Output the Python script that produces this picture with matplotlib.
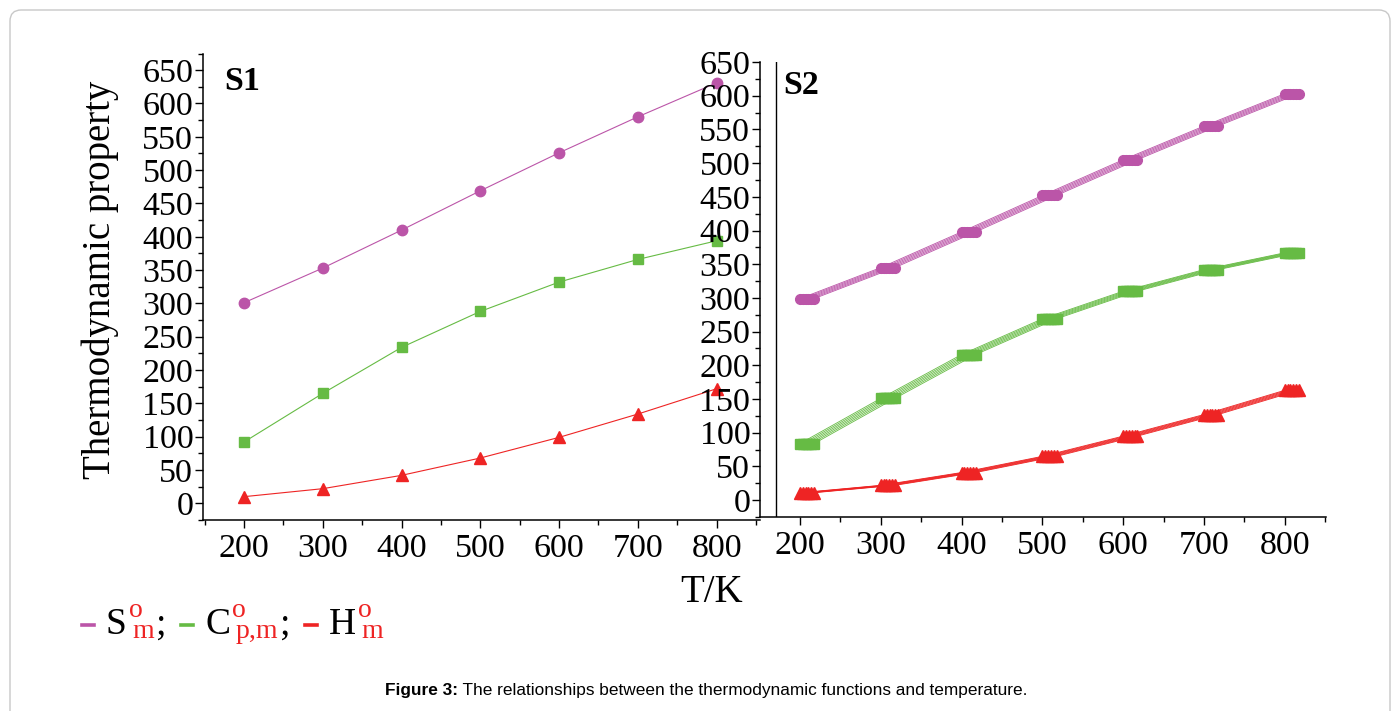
import numpy as np
import matplotlib
matplotlib.use("Agg")
import matplotlib.pyplot as plt
from matplotlib.lines import Line2D
from matplotlib.patches import FancyBboxPatch
from matplotlib.ticker import MultipleLocator

W, H = 1397, 711

# temperatures (K)
T = [200, 300, 400, 500, 600, 700, 800]

# S1
s1_S = [301, 353, 410, 469, 526, 580, 631]
s1_Cp = [92, 165, 234, 288, 332, 366, 394]
s1_H = [10, 22, 42, 68, 99, 134, 172]

# S2 (several nearly identical curves, drawn slightly shifted)
s2_S = [299, 345, 398, 452, 505, 555, 603]
s2_Cp = [84, 151, 216, 269, 310, 342, 367]
s2_H = [11, 22, 41, 65, 95, 127, 163]
s2_shift = [0, 3.5, 7, 10.5, 14, 17.5]

c_S = "#bb55a8"
c_Cp = "#66bb44"
c_H = "#ee2424"

serif = ["Liberation Serif", "DejaVu Serif"]
plt.rcParams["font.family"] = serif

fig = plt.figure(figsize=(W / 100, H / 100), dpi=100)

def px_axes(l, t, r, b):
    return fig.add_axes([l / W, 1 - b / H, (r - l) / W, (b - t) / H])

ax1 = px_axes(203, 53.5, 760, 520)
ax2 = px_axes(760, 62, 1326, 517)

for ax in (ax1, ax2):
    for sp in ("top", "right"):
        ax.spines[sp].set_visible(False)
    for sp in ("left", "bottom"):
        ax.spines[sp].set_linewidth(1.1)
    ax.set_facecolor("none")
    ax.xaxis.set_major_locator(MultipleLocator(100))
    ax.xaxis.set_minor_locator(MultipleLocator(50))
    ax.yaxis.set_major_locator(MultipleLocator(50))
    ax.yaxis.set_minor_locator(MultipleLocator(25))
    ax.tick_params(which="major", direction="out", length=6, width=1.0,
                   labelsize=24.5, pad=1)
    ax.tick_params(which="minor", direction="out", length=3.6, width=1.0)
    ax.tick_params(axis="x", which="major", pad=4)

ax1.set_xlim(148, 855)
ax1.set_ylim(-25, 675)
ax2.set_xlim(150.5, 851)
ax2.set_ylim(-25, 650)
ax1.set_yticks(np.arange(0, 651, 50))
ax2.set_yticks(np.arange(0, 651, 50))

ax1.plot(T, s1_S, color=c_S, lw=0.8, marker="o", ms=7.5)
ax1.plot(T, s1_Cp, color=c_Cp, lw=0.8, marker="s", ms=7)
ax1.plot(T, s1_H, color=c_H, lw=0.8, marker="^", ms=9)

for d in s2_shift:
    tt = [t + d for t in T]
    ax2.plot(tt, s2_S, color=c_S, lw=0.6, marker="o", ms=7)
    ax2.plot(tt, s2_Cp, color=c_Cp, lw=0.6, marker="s", ms=7)
    ax2.plot(tt, s2_H, color=c_H, lw=0.6, marker="^", ms=8.5)

ax2.axvline(170, color="black", lw=1.0)

ax1.text(224 / W, 1 - 90 / H, "S1", transform=fig.transFigure,
         fontsize=24.5, fontweight="bold", ha="left", va="baseline")
ax2.text(783 / W, 1 - 94 / H, "S2", transform=fig.transFigure,
         fontsize=24.5, fontweight="bold", ha="left", va="baseline")

fig.text(100 / W, 1 - 280 / H, "Thermodynamic property", rotation=90,
         fontsize=28, ha="center", va="center")
fig.text(712 / W, 1 - 592 / H, "T/K", fontsize=28, ha="center", va="center")

# legend line built from pieces
renderer = fig.canvas.get_renderer()

def put(x, y, s, **kw):
    t = fig.text(x / W, 1 - y / H, s, ha="left", va="baseline", **kw)
    return t.get_window_extent(renderer).x1

def dash(x, color):
    fig.add_artist(Line2D([x / W, (x + 12) / W], [1 - 625 / H, 1 - 625 / H],
                          color=color, lw=2.6, transform=fig.transFigure))
    return x + 12

big, small = 27, 20
x = 82
for col, main, sub in [(c_S, "S", "m"), (c_Cp, "C", "p,m"), (c_H, "H", "m")]:
    x = dash(x, col) + 12
    x = put(x, 634, main, fontsize=big) + 2
    xo = put(x, 617, "o", fontsize=small, color=c_H)
    xm = put(x + 3, 638, sub, fontsize=small, color=c_H)
    x = max(xo, xm) + 2
    if main != "H":
        x = put(x, 634, ";", fontsize=big) + 15

# caption
x = put(385, 695, "Figure 3:", fontsize=12.4, fontweight="bold",
        family=["Liberation Sans", "DejaVu Sans"])
put(x, 695, " The relationships between the thermodynamic functions and temperature.",
    fontsize=12.4, family=["Liberation Sans", "DejaVu Sans"])

# rounded frame
frame = FancyBboxPatch((10 / W, -0.05), 1380 / W, (H - 10) / H + 0.05,
                       boxstyle="round,pad=0,rounding_size=0.008",
                       mutation_aspect=W / H, transform=fig.transFigure,
                       facecolor="none", edgecolor="#c8c8c8", lw=1.0)
fig.add_artist(frame)

fig.savefig("out.png", dpi=100)
